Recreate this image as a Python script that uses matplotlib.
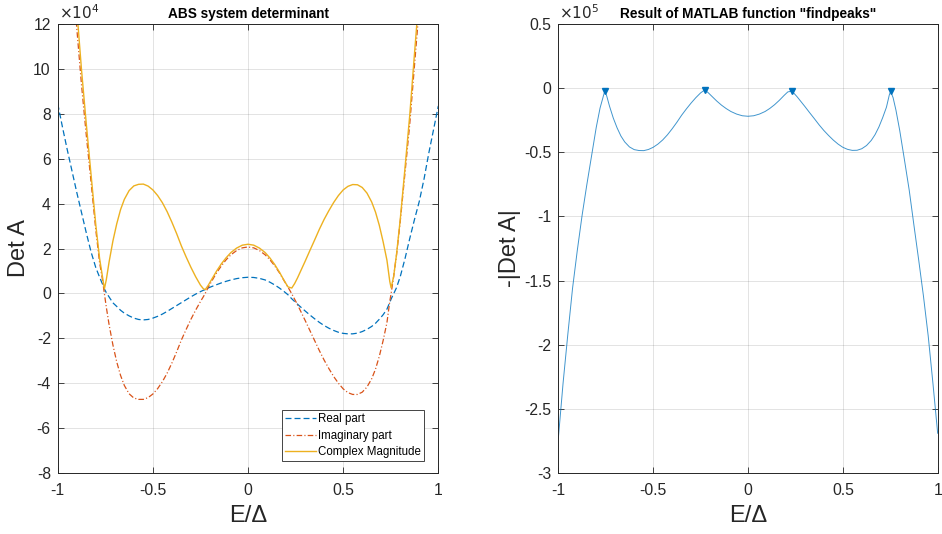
import numpy as np
import matplotlib
matplotlib.use("Agg")
import matplotlib.pyplot as plt
from matplotlib.ticker import FuncFormatter

# E/Delta sample points (denser near the zeros)
e_delta = [-1.0, -0.975, -0.95, -0.925, -0.9, -0.875, -0.85, -0.825, -0.8, -0.78,
           -0.765, -0.755, -0.745, -0.73, -0.71, -0.69, -0.67, -0.65, -0.625, -0.6,
           -0.575, -0.55, -0.525, -0.5, -0.475, -0.45, -0.425, -0.4, -0.375, -0.35,
           -0.325, -0.3, -0.275, -0.25, -0.235, -0.225, -0.21, -0.19, -0.165, -0.14,
           -0.115, -0.09, -0.06, -0.03, 0.0, 0.03, 0.06, 0.09, 0.115, 0.14,
           0.165, 0.19, 0.21, 0.23, 0.245, 0.26, 0.28, 0.3, 0.325, 0.35,
           0.375, 0.4, 0.425, 0.45, 0.475, 0.5, 0.525, 0.55, 0.575, 0.6,
           0.625, 0.65, 0.67, 0.69, 0.71, 0.73, 0.745, 0.752, 0.765, 0.78,
           0.8, 0.825, 0.85, 0.875, 0.9, 0.925, 0.95, 0.975, 1.0]

# values in units of 1e4
det_real = [8.45, 7.4, 6.4, 5.45, 4.5, 3.6, 2.7, 1.85, 1.15, 0.72,
            0.42, 0.2, 0.04, -0.16, -0.42, -0.58, -0.75, -0.88, -1.0, -1.1,
            -1.16, -1.18, -1.16, -1.1, -1.02, -0.92, -0.8, -0.67, -0.54, -0.41,
            -0.28, -0.15, -0.03, 0.08, 0.14, 0.17, 0.24, 0.31, 0.39, 0.47,
            0.54, 0.6, 0.66, 0.7, 0.72, 0.71, 0.67, 0.6, 0.5, 0.38,
            0.24, 0.08, -0.06, -0.24, -0.36, -0.48, -0.63, -0.78, -0.96, -1.13,
            -1.29, -1.43, -1.55, -1.65, -1.73, -1.78, -1.8, -1.8, -1.77, -1.7,
            -1.6, -1.47, -1.33, -1.15, -0.95, -0.7, -0.4, -0.25, -0.02, 0.25,
            0.75, 1.55, 2.45, 3.3, 4.1, 5.1, 6.25, 7.3, 8.35]

det_imag = [25.96, 21.78, 18.1, 14.62, 11.82, 9.28, 7.05, 4.97, 2.82, 1.37,
            0.62, 0.0, -0.6, -1.4, -2.3, -3.05, -3.65, -4.1, -4.47, -4.66,
            -4.72, -4.72, -4.64, -4.48, -4.24, -3.93, -3.55, -3.1, -2.6, -2.07,
            -1.6, -1.15, -0.74, -0.36, -0.15, 0.0, 0.26, 0.56, 0.92, 1.23,
            1.5, 1.72, 1.91, 2.03, 2.07, 2.03, 1.91, 1.72, 1.5, 1.23,
            0.92, 0.56, 0.28, -0.02, -0.26, -0.5, -0.85, -1.2, -1.65, -2.1,
            -2.55, -2.97, -3.35, -3.7, -4.0, -4.25, -4.42, -4.5, -4.5, -4.4,
            -4.17, -3.8, -3.37, -2.8, -2.1, -1.3, -0.35, 0.0, 0.74, 1.69,
            3.21, 5.38, 7.56, 10.18, 12.76, 15.38, 18.26, 21.81, 25.57]

det_abs = [27.3, 23.0, 19.2, 15.6, 12.65, 9.95, 7.55, 5.3, 3.05, 1.55,
           0.75, 0.2, 0.6, 1.41, 2.34, 3.1, 3.73, 4.19, 4.58, 4.79,
           4.86, 4.87, 4.78, 4.61, 4.36, 4.04, 3.64, 3.17, 2.66, 2.11,
           1.62, 1.16, 0.74, 0.37, 0.21, 0.17, 0.35, 0.64, 1.0, 1.32,
           1.59, 1.82, 2.02, 2.15, 2.19, 2.15, 2.02, 1.82, 1.58, 1.29,
           0.95, 0.57, 0.29, 0.24, 0.44, 0.69, 1.06, 1.43, 1.91, 2.38,
           2.86, 3.3, 3.69, 4.05, 4.36, 4.61, 4.77, 4.85, 4.84, 4.72,
           4.47, 4.07, 3.62, 3.03, 2.3, 1.48, 0.53, 0.25, 0.74, 1.71,
           3.3, 5.6, 7.95, 10.7, 13.4, 16.2, 19.3, 23.0, 26.9]

plt.rcParams['font.family'] = ['Liberation Sans', 'DejaVu Sans']
plt.rcParams['axes.unicode_minus'] = False
plt.rcParams['lines.scale_dashes'] = False

gray = (0.15, 0.15, 0.15)
c_blue = '#0072BD'
c_orange = '#D95319'
c_yellow = '#EDB120'

x = np.array(e_delta)
re = np.array(det_real) * 1e4
im = np.array(det_imag) * 1e4
mag = np.array(det_abs) * 1e4
neg = -mag

# local maxima of -|det| (what findpeaks marks)
pk = [i for i in range(1, len(neg) - 1) if neg[i] > neg[i - 1] and neg[i] > neg[i + 1]]

fig = plt.figure(figsize=(9.42, 5.34), dpi=100)
ax1 = fig.add_axes([0.0613, 0.1142, 0.404, 0.8408])
ax2 = fig.add_axes([0.5927, 0.1142, 0.4027, 0.8408])


def style(ax, scale, power):
    ax.set_xlim(-1, 1)
    ax.set_xticks([-1, -0.5, 0, 0.5, 1])
    ax.xaxis.set_major_formatter(FuncFormatter(lambda v, p: '%g' % v))
    ax.yaxis.set_major_formatter(FuncFormatter(lambda v, p: '%g' % round(v / scale, 6)))
    ax.grid(True, color=gray, alpha=0.13, linewidth=0.7)
    ax.tick_params(direction='in', top=True, right=True, length=4, width=0.6,
                   colors=gray, labelsize=11.3)
    ax.tick_params(axis='x', pad=7)
    ax.tick_params(axis='y', pad=5)
    for s in ax.spines.values():
        s.set_color(gray)
        s.set_linewidth(0.7)
    ax.set_xlabel('E/\u0394', fontsize=17, color=gray, labelpad=5)
    ax.text(0.003, 1.004, r'$\times10^{%d}$' % power, transform=ax.transAxes,
            ha='left', va='bottom', fontsize=11, color=gray)


ax1.plot(x, re, color=c_blue, lw=0.9, dashes=(4.3, 2.2), label='Real part')
ax1.plot(x, im, color=c_orange, lw=0.9, dashes=(4.0, 1.6, 0.8, 1.6), label='Imaginary part')
ax1.plot(x, mag, '-', color=c_yellow, lw=1.0, label='Complex Magnitude')
ax1.set_ylim(-8e4, 12e4)
ax1.set_yticks(np.arange(-8e4, 12.1e4, 2e4))
style(ax1, 1e4, 4)
ax1.set_ylabel('Det A', fontsize=17, color=gray, labelpad=2)
ax1.set_title('ABS system determinant', fontsize=9.8, fontweight='bold', pad=4)
leg = ax1.legend(loc='lower right', bbox_to_anchor=(0.9625, 0.027), borderaxespad=0,
                 fontsize=8.3, fancybox=False, framealpha=1, handlelength=2.7,
                 borderpad=0.25, labelspacing=0.38, handletextpad=0.2)
leg.get_frame().set_edgecolor(gray)
leg.get_frame().set_linewidth(0.6)

ax2.plot(x, neg, '-', color=c_blue, lw=0.7, alpha=0.75)
ax2.plot(x[pk], neg[pk], 'v', color=c_blue, ms=5)
ax2.set_ylim(-3e5, 0.5e5)
ax2.set_yticks(np.arange(-3e5, 0.51e5, 0.5e5))
style(ax2, 1e5, 5)
ax2.set_ylabel('-|Det A|', fontsize=17, color=gray, labelpad=2)
ax2.set_title('Result of MATLAB function "findpeaks"', fontsize=9.8, fontweight='bold', pad=4)

fig.savefig('out.png', dpi=100)
